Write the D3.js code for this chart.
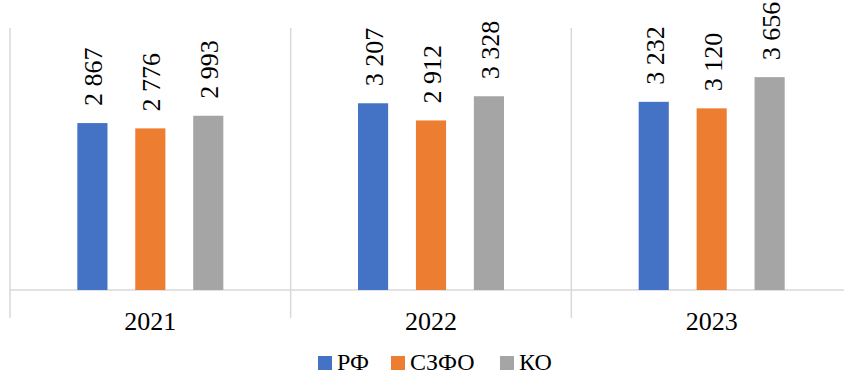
<!DOCTYPE html>
<html>
<head>
<meta charset="utf-8">
<script src="https://cdn.jsdelivr.net/npm/d3@7"></script>
<style>
  body { margin: 0; background: #fff; }
</style>
</head>
<body>
<script>
const years = ["2021", "2022", "2023"];
const seriesNames = ["РФ", "СЗФО", "КО"];
const rf = [2867, 3207, 3232];
const szfo = [2776, 2912, 3120];
const ko = [2993, 3328, 3656];
const colors = ["#4472c4", "#ed7d31", "#a5a5a5"];

const width = 844;
const height = 376;
const plotLeft = 10, plotRight = 852, plotTop = 28, plotBottom = 290;
const font = "Liberation Serif";
const fs = 26;

const svg = d3.select('body')
  .append('svg')
  .attr('width', width)
  .attr('height', height);

const fmt = d3.formatLocale({ decimal: ",", thousands: " ", grouping: [3], currency: ["", ""] }).format(",d");

const x = d3.scaleBand().domain(years).range([plotLeft, plotRight]);
const groupW = 146;
const xs = d3.scaleBand().domain(seriesNames).range([0, groupW]).paddingInner(0.48);
const y = d3.scaleLinear().domain([0, 4500]).range([plotBottom, plotTop]);

const values = [rf, szfo, ko];

// category separators
const seps = years.map(d => x(d)).concat([plotRight]);
svg.append('g').selectAll('line')
  .data(seps)
  .enter().append('line')
  .attr('x1', d => d).attr('x2', d => d)
  .attr('y1', plotTop).attr('y2', 318)
  .attr('stroke', '#d9d9d9').attr('stroke-width', 1.5);

svg.append('line')
  .attr('x1', plotLeft).attr('x2', plotRight)
  .attr('y1', plotBottom).attr('y2', plotBottom)
  .attr('stroke', '#d9d9d9').attr('stroke-width', 1.5);

const bars = [];
years.forEach((yr, i) => {
  seriesNames.forEach((s, j) => {
    bars.push({ year: yr, series: s, value: values[j][i], color: colors[j] });
  });
});

const off = (x.bandwidth() - groupW) / 2;

svg.append('g').selectAll('rect')
  .data(bars)
  .enter().append('rect')
  .attr('x', d => x(d.year) + off + xs(d.series))
  .attr('width', xs.bandwidth())
  .attr('y', d => y(d.value))
  .attr('height', d => plotBottom - y(d.value))
  .attr('fill', d => d.color);

svg.append('g').selectAll('text')
  .data(bars)
  .enter().append('text')
  .attr('transform', d => `translate(${x(d.year) + off + xs(d.series) + xs.bandwidth() / 2 + 10},${y(d.value) - 17}) rotate(-90)`)
  .attr('font-family', font)
  .attr('font-size', fs)
  .attr('fill', '#000')
  .text(d => fmt(d.value));

// category labels
svg.append('g').selectAll('text')
  .data(years)
  .enter().append('text')
  .attr('x', d => x(d) + x.bandwidth() / 2)
  .attr('y', 330)
  .attr('text-anchor', 'middle')
  .attr('font-family', font)
  .attr('font-size', fs)
  .attr('fill', '#000')
  .text(d => d);

// legend
const legendX = [318, 391, 500];
const lg = svg.append('g').selectAll('g')
  .data(seriesNames)
  .enter().append('g')
  .attr('transform', (d, i) => `translate(${legendX[i]},356)`);
lg.append('rect').attr('width', 14).attr('height', 14).attr('fill', (d, i) => colors[i]);
lg.append('text').attr('x', 19).attr('y', 14)
  .attr('font-family', font)
  .attr('font-size', 24).attr('fill', '#000').text(d => d);
</script>
</body>
</html>
